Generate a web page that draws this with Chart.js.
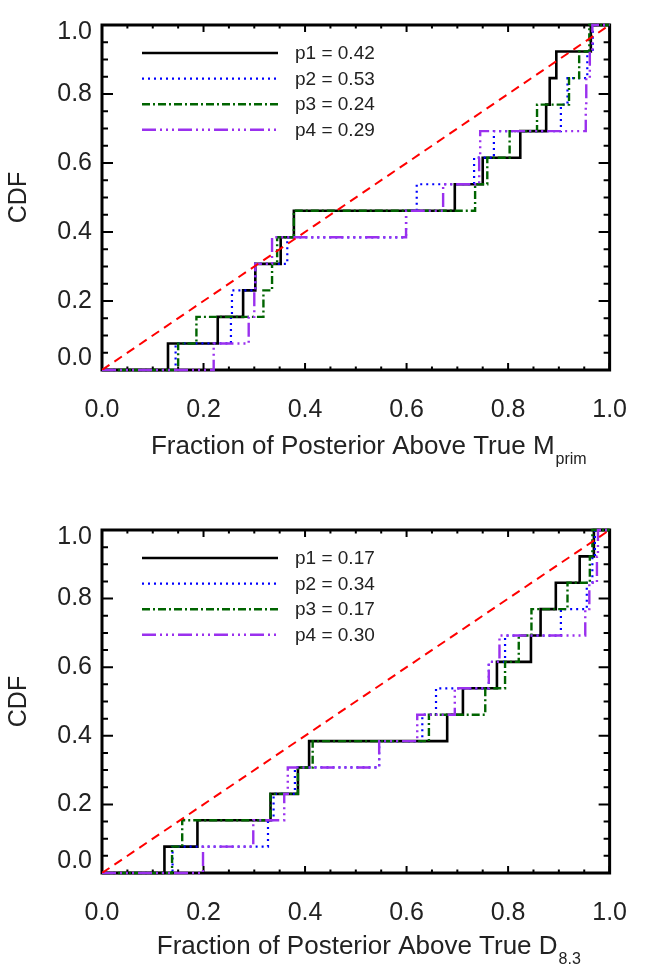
<!DOCTYPE html>
<html>
<head>
<meta charset="utf-8">
<script src="https://cdn.jsdelivr.net/npm/chart.js@4.4.1/dist/chart.umd.min.js"></script>
<style>
  html, body { margin: 0; padding: 0; background: #fff; }
  canvas { display: block; }
</style>
</head>
<body>
<canvas id="topChart" width="652" height="484"></canvas>
<canvas id="bottomChart" width="652" height="485"></canvas>
<script>
// sorted sample values: each one lifts its CDF by 1/13
const seriesNames = ['p1', 'p2', 'p3', 'p4'];
const topPValues = ['0.42', '0.53', '0.24', '0.29'];
const bottomPValues = ['0.17', '0.34', '0.17', '0.30'];

const topP1 = [0.130, 0.228, 0.278, 0.302, 0.352, 0.378, 0.695, 0.750, 0.824, 0.875, 0.882, 0.895, 0.963];
const topP2 = [0.145, 0.254, 0.256, 0.302, 0.365, 0.599, 0.620, 0.733, 0.772, 0.904, 0.917, 0.956, 0.967];
const topP3 = [0.150, 0.186, 0.318, 0.335, 0.345, 0.378, 0.735, 0.759, 0.803, 0.857, 0.920, 0.940, 0.960];
const topP4 = [0.220, 0.289, 0.300, 0.302, 0.335, 0.599, 0.672, 0.743, 0.745, 0.953, 0.954, 0.961, 0.966];

const bottomP1 = [0.123, 0.188, 0.332, 0.386, 0.408, 0.680, 0.711, 0.778, 0.845, 0.864, 0.894, 0.941, 0.969];
const bottomP2 = [0.139, 0.327, 0.338, 0.380, 0.546, 0.631, 0.658, 0.762, 0.794, 0.904, 0.955, 0.966, 0.971];
const bottomP3 = [0.138, 0.158, 0.332, 0.386, 0.415, 0.644, 0.755, 0.794, 0.821, 0.846, 0.917, 0.961, 0.966];
const bottomP4 = [0.199, 0.298, 0.359, 0.366, 0.546, 0.621, 0.695, 0.762, 0.783, 0.952, 0.960, 0.975, 0.977];

const diagonal = [{x: 0, y: 0}, {x: 1, y: 1}];

const majorTicks = [0, 0.2, 0.4, 0.6, 0.8, 1.0];
const minorTicks = [0.05, 0.1, 0.15, 0.25, 0.3, 0.35, 0.45, 0.5, 0.55, 0.65, 0.7, 0.75, 0.85, 0.9, 0.95];
const yTickLabels = ['0.0', '0.2', '0.4', '0.6', '0.8', '1.0'];

const FONT = '"Liberation Sans", Arial, Helvetica, sans-serif';
const TEXT = '#222';

const styles = [
    {color: '#000000', width: 2.6, dash: []},
    {color: '#0000ff', width: 2.2, dash: [2, 4]},
    {color: '#006400', width: 2.4, dash: [8, 3, 2, 3]},
    {color: '#9a30ee', width: 2.4, dash: [14, 4, 2, 4, 2, 4, 2, 4]}
];

function cdfPoints(steps) {
    let pts = [{x: 0, y: 0}];
    steps.forEach((v, i) => pts.push({x: v, y: (i + 1) / steps.length}));
    pts.push({x: 1, y: 1});
    return pts;
}

const framePlugin = {
    id: 'frame',
    beforeDatasetsDraw(chart) {
        const {ctx, chartArea: a, scales: {x, y}} = chart;
        ctx.save();
        ctx.strokeStyle = '#000';
        ctx.lineWidth = 3;
        ctx.strokeRect(a.left, a.top, a.right - a.left, a.bottom - a.top);
        ctx.lineWidth = 2;
        ctx.beginPath();
        const ticks = majorTicks.map(v => [v, true]).concat(minorTicks.map(v => [v, false]));
        ticks.forEach(([v, major]) => {
            const px = x.getPixelForValue(v);
            const lx = major ? 7 : 3.5;
            ctx.moveTo(px, a.bottom); ctx.lineTo(px, a.bottom - lx);
            ctx.moveTo(px, a.top); ctx.lineTo(px, a.top + lx);
            const py = y.getPixelForValue(v);
            const ly = major ? 11 : 6;
            ctx.moveTo(a.left, py); ctx.lineTo(a.left + ly, py);
            ctx.moveTo(a.right, py); ctx.lineTo(a.right - ly, py);
        });
        ctx.stroke();

        // y tick labels, end ones pulled inside the frame like the original
        ctx.fillStyle = TEXT;
        ctx.font = '25px ' + FONT;
        ctx.textAlign = 'right';
        ctx.textBaseline = 'middle';
        majorTicks.forEach((v, i) => {
            let py = y.getPixelForValue(v);
            if (i === 0) py -= 12;
            if (i === majorTicks.length - 1) py += 7;
            ctx.fillText(yTickLabels[i], a.left - 10, py);
        });

        // CDF axis title
        ctx.save();
        ctx.translate(19, (a.top + a.bottom) / 2);
        ctx.rotate(-Math.PI / 2);
        ctx.textAlign = 'center';
        ctx.fillText('CDF', 0, 0);
        ctx.restore();
        ctx.restore();
    },
    afterDraw(chart, args, opts) {
        const {ctx, chartArea: a} = chart;
        ctx.save();
        // x axis title with subscript
        ctx.fillStyle = TEXT;
        ctx.textBaseline = 'alphabetic';
        ctx.textAlign = 'left';
        ctx.font = '26px ' + FONT;
        const w1 = ctx.measureText(opts.title).width;
        ctx.font = '16px ' + FONT;
        const w2 = ctx.measureText(opts.sub).width;
        let sx = (a.left + a.right) / 2 - (w1 + w2 + 1) / 2 + 13;
        const base = a.bottom + opts.titleGap;
        ctx.font = '26px ' + FONT;
        ctx.fillText(opts.title, sx, base);
        ctx.font = '16px ' + FONT;
        ctx.fillText(opts.sub, sx + w1 + 1, base + 10);

        // legend inside the plot
        ctx.font = '19px ' + FONT;
        ctx.textBaseline = 'middle';
        opts.pValues.forEach((p, i) => {
            const st = styles[i];
            const ly = a.top + 28 + i * 25.6;
            ctx.strokeStyle = st.color;
            ctx.lineWidth = st.width;
            ctx.setLineDash(st.dash);
            ctx.beginPath();
            ctx.moveTo(a.left + 40, ly);
            ctx.lineTo(a.left + 176, ly);
            ctx.stroke();
            ctx.fillText(seriesNames[i] + ' = ' + p, a.left + 193, ly + 1);
        });
        ctx.restore();
    }
};

function makeChart(id, seriesList, pValues, title, sub, padTop, xHeight, titleGap) {
    const datasets = [{
        data: diagonal,
        borderColor: '#ff0000',
        borderWidth: 2,
        borderDash: [9, 6],
        pointRadius: 0,
        order: 0
    }];
    seriesList.forEach((s, i) => {
        datasets.push({
            data: cdfPoints(s),
            borderColor: styles[i].color,
            borderWidth: styles[i].width,
            borderDash: styles[i].dash,
            stepped: 'before',
            pointRadius: 0,
            clip: false,
            order: 4 - i
        });
    });
    return new Chart(document.getElementById(id), {
        type: 'line',
        data: {datasets: datasets},
        plugins: [framePlugin],
        options: {
            responsive: false,
            animation: false,
            layout: {padding: {top: padTop, right: 20, left: 0, bottom: 0}},
            plugins: {
                legend: {display: false},
                tooltip: {enabled: false},
                frame: {title: title, sub: sub, pValues: pValues, titleGap: titleGap}
            },
            scales: {
                x: {
                    type: 'linear',
                    min: 0,
                    max: 1,
                    grid: {display: false, drawTicks: false},
                    border: {display: false},
                    afterFit: s => { s.height = xHeight; },
                    ticks: {
                        stepSize: 0.2,
                        padding: 25,
                        color: TEXT,
                        font: {size: 25, family: FONT},
                        maxRotation: 0,
                        callback: v => v.toFixed(1)
                    }
                },
                y: {
                    type: 'linear',
                    min: 0,
                    max: 1,
                    grid: {display: false, drawTicks: false},
                    border: {display: false},
                    afterFit: s => { s.width = 102; },
                    ticks: {display: false}
                }
            }
        }
    });
}

makeChart('topChart', [topP1, topP2, topP3, topP4], topPValues,
    'Fraction of Posterior Above True M', 'prim', 25, 114, 84);
makeChart('bottomChart', [bottomP1, bottomP2, bottomP3, bottomP4], bottomPValues,
    'Fraction of Posterior Above True D', '8.3', 46, 96, 81);
</script>
</body>
</html>
